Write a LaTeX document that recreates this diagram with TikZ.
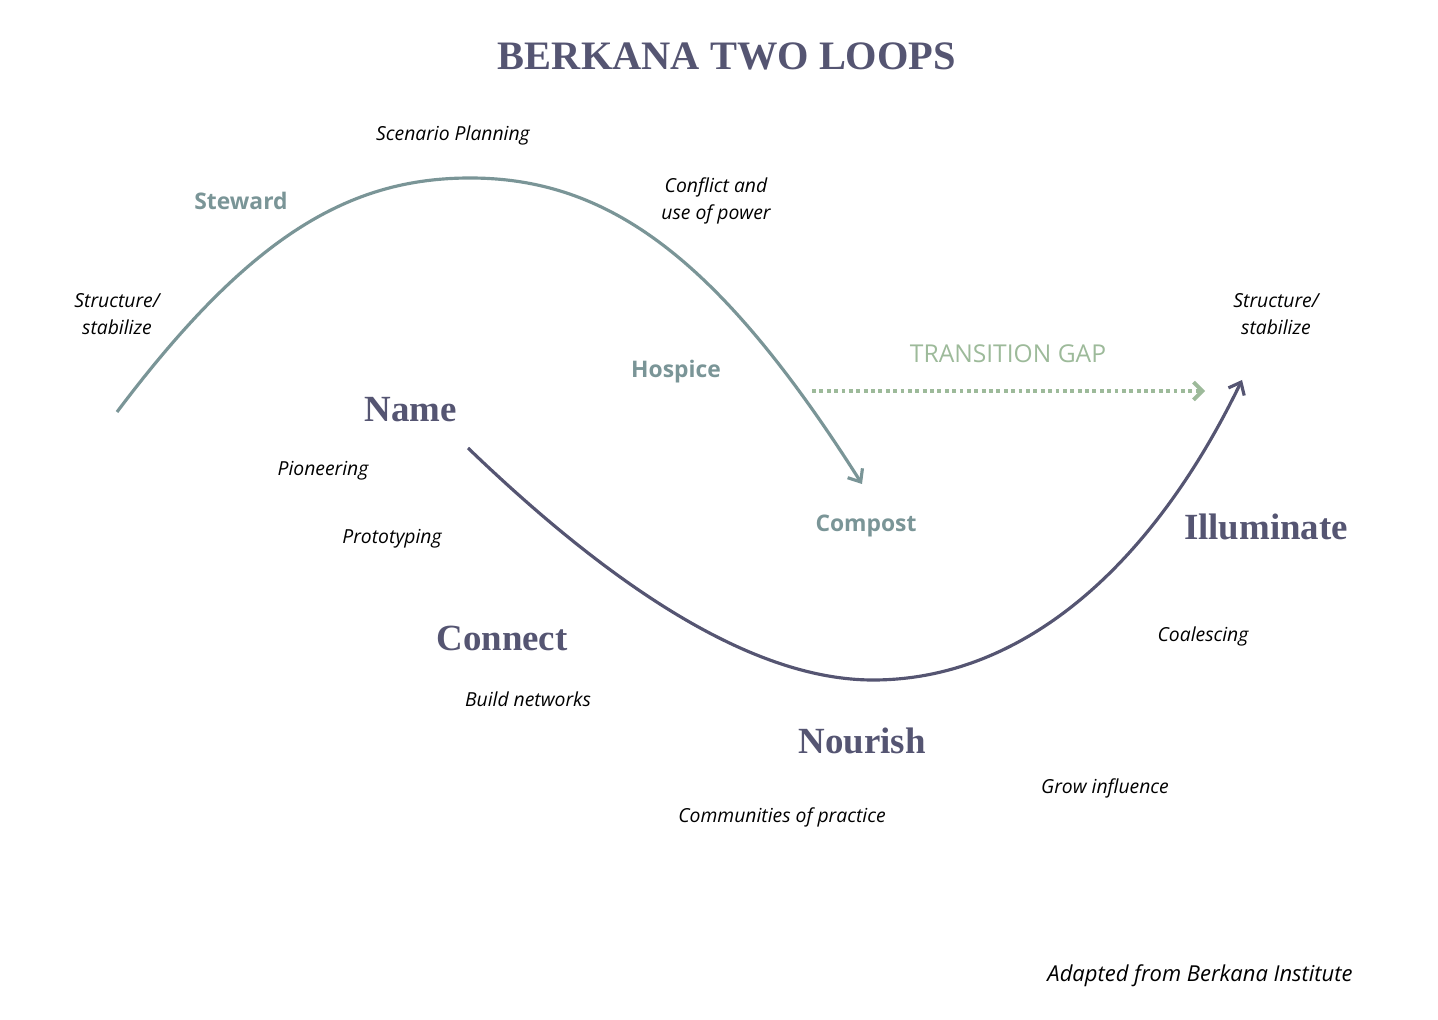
\documentclass[tikz,border=0pt]{standalone}
\usepackage{fontspec}
\setmainfont{Liberation Serif}
\setsansfont{Open Sans}
\usetikzlibrary{arrows.meta}
\definecolor{dusk}{HTML}{555572}
\definecolor{teal}{HTML}{7A9597}
\definecolor{sage}{HTML}{9DBA9A}
\tikzset{
  note/.style={font=\sffamily\itshape\fontsize{11}{15}\selectfont, align=center, inner sep=0pt},
  stage/.style={font=\rmfamily\bfseries\fontsize{21}{24}\selectfont, text=dusk, inner sep=0pt},
  phase/.style={font=\sffamily\bfseries\fontsize{13}{15}\selectfont, text=teal, inner sep=0pt},
  loop/.style={line width=1.8pt, -{Straight Barb[length=6pt,width=10pt]}}
}
\begin{document}
\begin{tikzpicture}[x=0.02cm,y=-0.02cm]
\useasboundingbox (0,0) rectangle (1438,1020);
\node[font=\rmfamily\bfseries\fontsize{23}{26}\selectfont, text=dusk] (title) at (727,56) {BERKANA TWO LOOPS};
% old loop
\coordinate (oldStart) at (117,412);
\coordinate (oldTop) at (470,178);
\coordinate (oldEnd) at (862,484);
\draw[loop, teal] (oldStart) .. controls (250,235) and (350,178) .. (oldTop)
  .. controls (610,178) and (720,260) .. (oldEnd);
% new loop
\coordinate (newStart) at (468,448);
\coordinate (newLow) at (873,680);
\coordinate (newEnd) at (1242,380);
\draw[loop, dusk] (newStart) .. controls (600,575) and (745,680) .. (newLow)
  .. controls (1020,680) and (1150,570) .. (newEnd);
% gap
\coordinate (gapA) at (812,391);
\coordinate (gapB) at (1205,391);
\draw[sage, line width=2.2pt, dotted, -{Straight Barb[length=5pt,width=10pt]}] (gapA) -- (gapB);
\node[font=\sffamily\fontsize{14}{16}\selectfont, text=sage] (gap) at (1008,354) {TRANSITION GAP};
% phases
\node[phase] (steward) at (241,201) {Steward};
\node[phase] (hospice) at (676,372) {Hospice};
\node[phase] (compost) at (866,526) {Compost};
% stages
\node[stage] (name) at (411,410) {Name};
\node[stage] (connect) at (502,638) {Connect};
\node[stage] (nourish) at (862,741) {Nourish};
\node[stage] (illuminate) at (1266,527) {Illuminate};
% notes
\node[note] (scen) at (453,135) {Scenario Planning};
\node[note] (conf) at (716,201) {Conflict and\\use of power};
\node[note] (struL) at (117,314) {Structure/\\stabilize};
\node[note] (struR) at (1276,314) {Structure/\\stabilize};
\node[note] (pion) at (323,471) {Pioneering};
\node[note] (proto) at (392,539) {Prototyping};
\node[note] (build) at (528,699) {Build networks};
\node[note] (comm) at (782,817) {Communities of practice};
\node[note] (grow) at (1105,788) {Grow influence};
\node[note] (coal) at (1203,636) {Coalescing};
\node[note, font=\sffamily\itshape\fontsize{12.5}{15}\selectfont] (src) at (1200,976) {Adapted from Berkana Institute};
\end{tikzpicture}
\end{document}
